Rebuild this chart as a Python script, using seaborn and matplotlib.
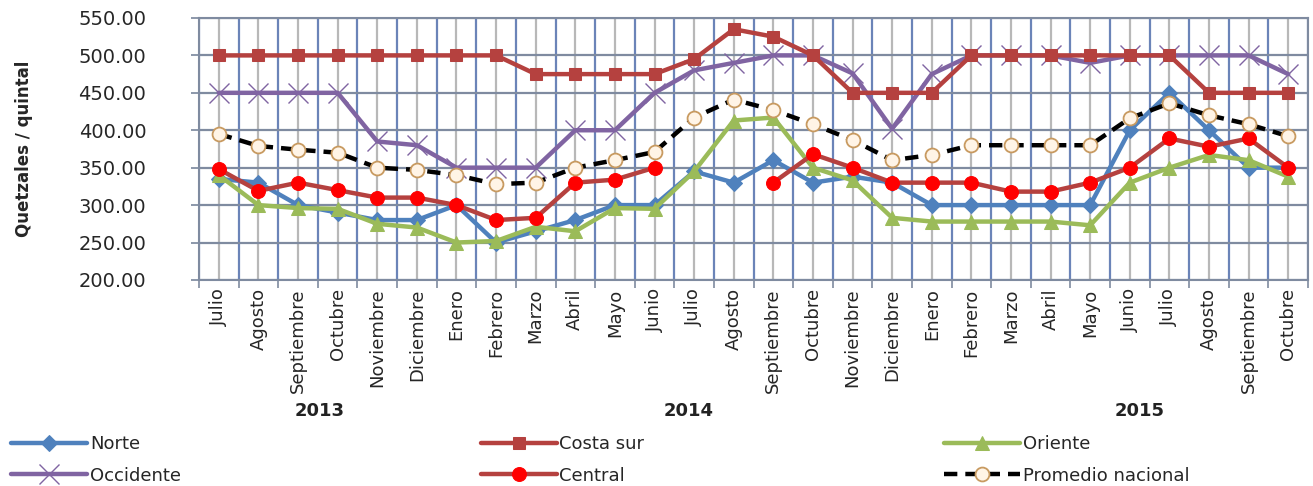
import numpy as np
import pandas as pd
import matplotlib
matplotlib.use("Agg")
import matplotlib.pyplot as plt
import matplotlib.ticker as mticker
import seaborn as sns

sns.set_theme(style="white")
plt.rcParams["font.family"] = ["DejaVu Sans"]

# ── DATA ─────────────────────────────────────────────────────────────────────
months = ["Julio", "Agosto", "Septiembre", "Octubre", "Noviembre", "Diciembre",
          "Enero", "Febrero", "Marzo", "Abril", "Mayo", "Junio",
          "Julio", "Agosto", "Septiembre", "Octubre", "Noviembre", "Diciembre",
          "Enero", "Febrero", "Marzo", "Abril", "Mayo", "Junio",
          "Julio", "Agosto", "Septiembre", "Octubre"]
years = ["2013", "2014", "2015"]

norte = [335, 330, 300, 290, 280, 280, 300, 250, 265, 280, 300, 300,
         345, 330, 360, 330, 338, 330, 300, 300, 300, 300, 300, 400,
         450, 400, 350, 350]
costa_sur = [500, 500, 500, 500, 500, 500, 500, 500, 475, 475, 475, 475,
             495, 535, 525, 500, 450, 450, 450, 500, 500, 500, 500, 500,
             500, 450, 450, 450]
oriente = [340, 300, 296, 295, 275, 270, 250, 252, 271, 265, 296, 295,
           345, 413, 417, 350, 333, 283, 278, 278, 278, 278, 273, 330,
           350, 367, 360, 338]
occidente = [450, 450, 450, 450, 385, 380, 350, 350, 350, 400, 400, 450,
             480, 490, 500, 500, 476, 402, 475, 500, 500, 500, 490, 500,
             500, 500, 500, 475]
central = [348, 319, 330, 320, 310, 310, 300, 280, 283, 330, 334, 350,
           np.nan, np.nan, 330, 368, 350, 330, 330, 330, 318, 318, 330, 350,
           389, 378, 389, 350]
promedio = [395, 379, 374, 370, 350, 347, 340, 328, 330, 350, 360, 371,
            417, 441, 427, 408, 387, 360, 367, 380, 380, 380, 380, 416,
            436, 420, 408, 392]

x = np.arange(len(months))

# ── PLOT ─────────────────────────────────────────────────────────────────────
fig = plt.figure(figsize=(13.13, 4.86), dpi=100)
ax = fig.add_axes([0.1516, 0.424, 0.8446, 0.539])

lw = 3.2
sns.lineplot(x=x, y=norte, ax=ax, color="#4F81BD", lw=lw, marker="D",
             markersize=8, markeredgecolor="#4F81BD", label="Norte", zorder=3)
sns.lineplot(x=x, y=occidente, ax=ax, color="#8064A2", lw=lw, marker="x",
             markersize=15, markeredgewidth=1.0, markeredgecolor="#8064A2",
             label="Occidente", zorder=3)
sns.lineplot(x=x, y=costa_sur, ax=ax, color="#B5413F", lw=lw, marker="s",
             markersize=8, markeredgecolor="#B5413F", label="Costa sur", zorder=3)

# Central has missing months -> draw each continuous run separately
df_c = pd.DataFrame({"x": x, "y": central})
df_c["seg"] = df_c["y"].isna().cumsum()
for i, (_, seg) in enumerate(df_c.dropna().groupby("seg")):
    sns.lineplot(data=seg, x="x", y="y", ax=ax, color="#B5413F", lw=lw,
                 marker="o", markersize=10, markerfacecolor="#FF0000",
                 markeredgecolor="#FF0000",
                 label="Central" if i == 0 else "_nolegend_", zorder=4)

sns.lineplot(x=x, y=oriente, ax=ax, color="#9BBB59", lw=lw, marker="^",
             markersize=10, markeredgecolor="#9BBB59", label="Oriente", zorder=3)
sns.lineplot(x=x, y=promedio, ax=ax, color="black", lw=lw, marker="o",
             markersize=10, markerfacecolor="#FFF4E6", markeredgecolor="#C89A60",
             markeredgewidth=1.3, linestyle=(0, (3, 1.8)),
             label="Promedio nacional", zorder=5)

# axes & grid
ax.set_xlim(-0.5, len(months) - 0.5)
ax.set_ylim(200, 550)
ax.set_xlabel("")
ax.yaxis.set_major_locator(mticker.MultipleLocator(50))
ax.yaxis.set_major_formatter(mticker.FuncFormatter(lambda v, _: f"{v:.2f}"))
ax.set_xticks(x)
ax.set_xticklabels(months, rotation=90, fontsize=13)
ax.set_xticks(np.arange(len(months) + 1) - 0.5, minor=True)
ax.tick_params(axis="x", which="major", length=0, pad=6)
ax.tick_params(axis="x", which="minor", length=6, color="#7F8BA0", width=1.2,
               direction="out", bottom=True)
ax.tick_params(axis="y", labelsize=14, length=6, color="#7F8BA0", left=True,
               pad=32)

ax.grid(axis="x", which="major", color="#B8B8B8", lw=1.6, zorder=0)
ax.grid(axis="x", which="minor", color="#6B84B8", lw=1.6, zorder=0)
ax.grid(axis="y", which="major", color="#7F8BA0", lw=1.6, zorder=0)
for sp in ax.spines.values():
    sp.set_color("#7F8BA0")
    sp.set_linewidth(1.5)

ax.set_ylabel("Quetzales / quintal", fontsize=12, fontweight="bold")
ax.yaxis.set_label_coords(-0.15, 0.5)

# year group labels
year_pos = [2.55, 11.87, 23.25]
for yr, xp in zip(years, year_pos):
    ax.text(xp, -0.5, yr, transform=ax.get_xaxis_transform(), ha="center",
            va="center", fontsize=13, fontweight="bold", color="#222222")

# legend laid out row-wise: Norte, Costa sur, Oriente / Occidente, Central, Promedio
handles, labels = ax.get_legend_handles_labels()
ax.legend(handles, labels, ncol=3, loc="lower left", frameon=False,
          bbox_to_anchor=(0.006, -0.005), bbox_transform=fig.transFigure,
          fontsize=13, handlelength=4.2, numpoints=1, columnspacing=16.6,
          labelspacing=0.75, handletextpad=0.15, borderaxespad=0.0,
          borderpad=0.2)

plt.savefig("out.png", dpi=100)
plt.close()
